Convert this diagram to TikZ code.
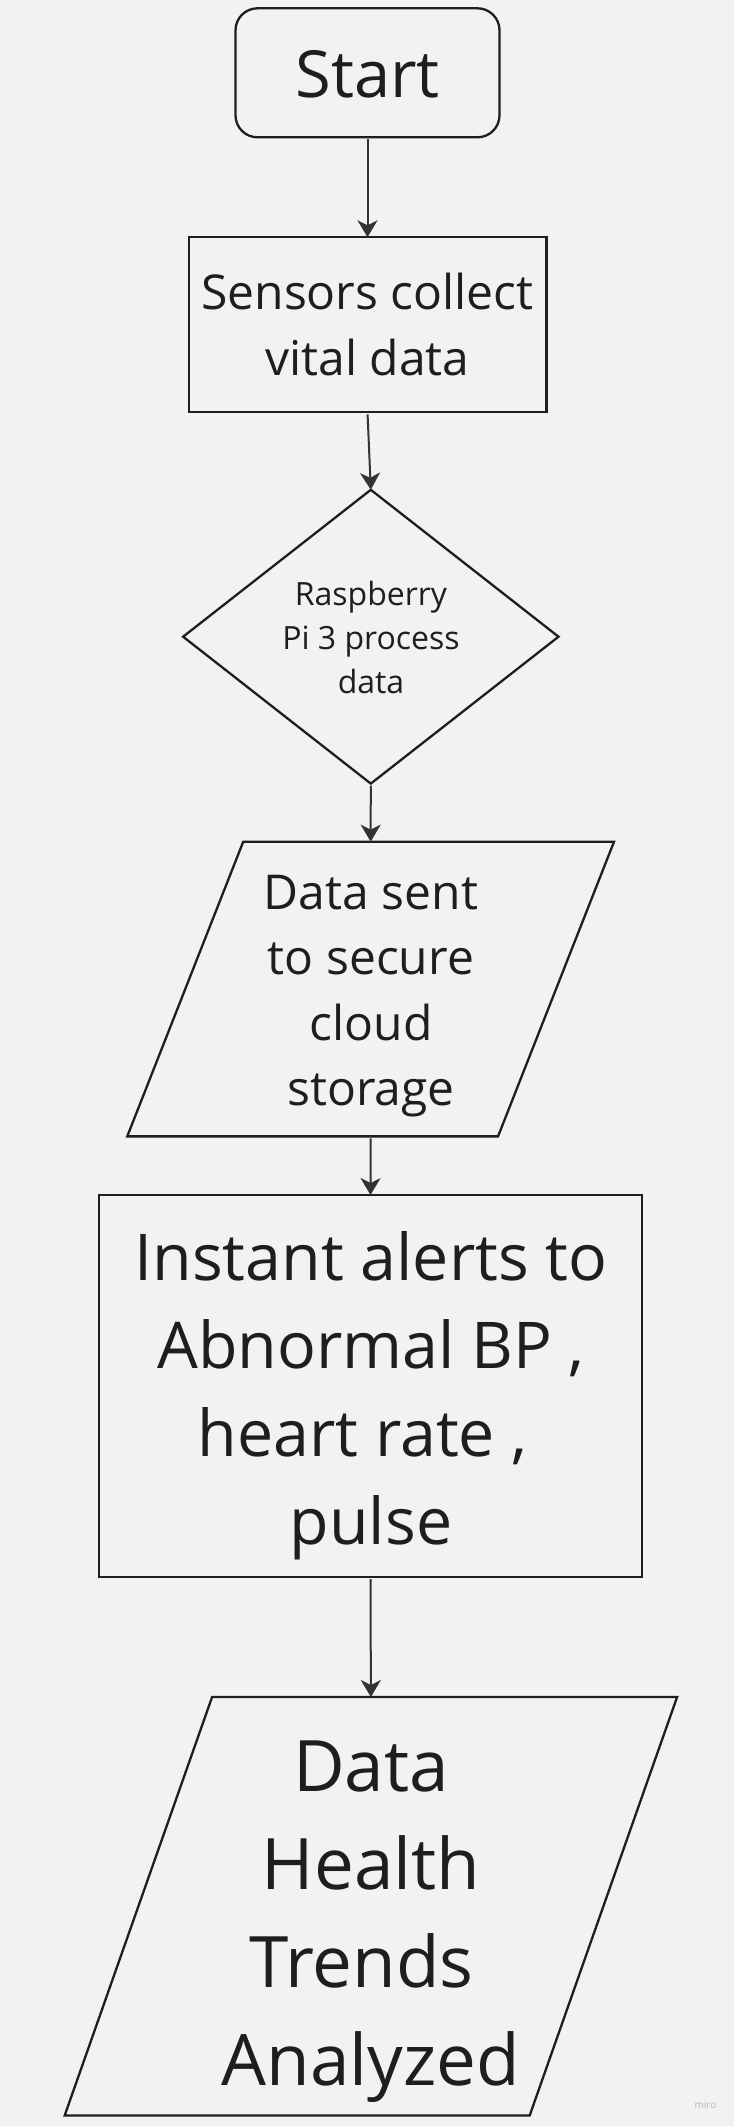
\documentclass[tikz,border=0pt]{standalone}
\usepackage{fontspec}
\setmainfont{Open Sans}
\usetikzlibrary{arrows.meta}
\definecolor{bg}{HTML}{F2F2F2}
\definecolor{ink}{HTML}{1E1E1E}
\definecolor{arrowink}{HTML}{333333}
\begin{document}
\begin{tikzpicture}[x=1pt,y=-1pt,
  ghost/.style={draw=none,inner sep=0pt,outer sep=0pt},
  shapeline/.style={draw=ink,line width=2.3pt,line join=miter},
  boxnode/.style={shapeline,inner sep=0pt,outer sep=0pt,text=ink,align=center},
  txt/.style={inner sep=0pt,text=ink,align=center},
  arr/.style={draw=arrowink,line width=2pt,shorten <=2pt,-{Stealth[length=17pt,width=20pt,inset=5pt]}}]
\fill[bg] (0,0) rectangle (734,2126);
\useasboundingbox (0,0) rectangle (734,2126);

% Start
\node[boxnode,rounded corners=22pt,minimum width=264pt,minimum height=129pt] (start) at (367.5,72.8) {};
\node[txt,font=\fontsize{65}{88}\selectfont] (starttxt) at (367.5,74.5) {Start};

% Sensors
\node[boxnode,minimum width=357.7pt,minimum height=175pt] (sensors) at (367.5,324.8) {};
\node[txt,font=\fontsize{48}{66}\selectfont] (sensorstxt) at (367.5,324) {Sensors collect\\vital data};

% Diamond
\node[ghost,minimum width=375.4pt,minimum height=293.8pt] (dia) at (370.8,636.7) {};
\draw[shapeline] (dia.north) -- (dia.east) -- (dia.south) -- (dia.west) -- cycle;
\node[txt,font=\fontsize{32}{44}\selectfont] (diatxt) at (371,637) {Raspberry\\Pi 3 process\\data};

% Parallelogram 1
\node[ghost,minimum width=370.8pt,minimum height=294.7pt] (store) at (370.65,989) {};
\draw[shapeline] ([xshift=58pt]store.north west) -- ([xshift=58pt]store.north east)
  -- ([xshift=-58pt]store.south east) -- ([xshift=-58pt]store.south west) -- cycle;
\node[txt,font=\fontsize{48}{65.5}\selectfont] (storetxt) at (371,996) {Data sent\\to secure\\cloud\\storage};

% Alerts box
\node[boxnode,minimum width=543.5pt,minimum height=382pt] (alert) at (370.5,1386) {};
\node[txt,font=\fontsize{64.5}{88}\selectfont] (alerttxt) at (371,1396) {Instant alerts to\\Abnormal BP ,\\heart rate ,\makebox[16.5pt]{}\\pulse};

% Parallelogram 2
\node[ghost,minimum width=465pt,minimum height=418.4pt] (trend) at (370.9,1906.2) {};
\draw[shapeline] ([xshift=73.7pt]trend.north west) -- ([xshift=73.7pt]trend.north east)
  -- ([xshift=-73.7pt]trend.south east) -- ([xshift=-73.7pt]trend.south west) -- cycle;
\node[txt,font=\fontsize{71}{98}\selectfont] (trendtxt) at (371,1922) {Data\\Health\\Trends\makebox[19pt]{}\\Analyzed};

% Connectors
\draw[arr] (start.south) -- (sensors.north);
\draw[arr] (sensors.south) -- (dia.north);
\draw[arr] (dia.south) -- (store.north);
\draw[arr] (store.south) -- (alert.north);
\draw[arr] (alert.south) -- (trend.north);

% watermark
\node[txt,text=black!28,font=\fontsize{10}{12}\selectfont] (mark) at (705.5,2105) {miro};
\end{tikzpicture}
\end{document}
